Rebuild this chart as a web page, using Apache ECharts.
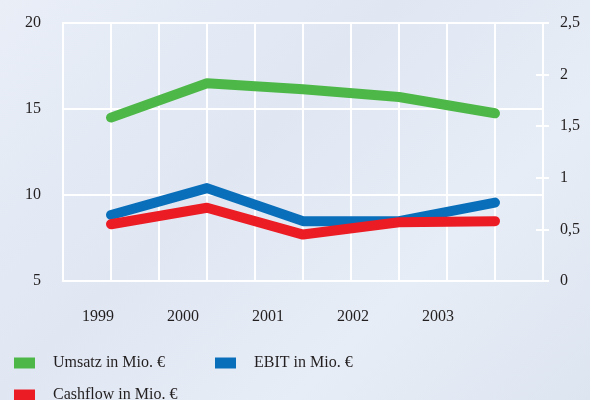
<!DOCTYPE html>
<html>
<head>
<meta charset="utf-8">
<script src="https://cdn.jsdelivr.net/npm/echarts@6/dist/echarts.min.js"></script>
<style>
html,body{margin:0;padding:0;}
#c{width:590px;height:400px;background:linear-gradient(135deg,#e9eef7 0%,#e0e7f3 40%,#e7edf6 70%,#dde5f1 100%);}
</style>
</head>
<body>
<div id="c"></div>
<script>
const years = [1999, 2000, 2001, 2002, 2003];
const yearLabels = ['1999', '2000', '2001', '2002', '2003'];
const umsatz = [14.5, 16.5, 16.15, 15.7, 14.75];
const ebit = [0.64, 0.90, 0.58, 0.58, 0.76];
const cashflow = [0.55, 0.71, 0.45, 0.57, 0.58];
const leftTicks = [5, 10, 15, 20];
const rightTicks = [0, 0.5, 1, 1.5, 2, 2.5];

const seriesNames = ['Umsatz in Mio. €', 'EBIT in Mio. €', 'Cashflow in Mio. €'];
const font = 'Liberation Serif';
const txt = '#231f20';
const pairs = v => years.map((y, i) => [y, v[i]]);

const chart = echarts.init(document.getElementById('c'));
chart.setOption({
  animation: false,
  textStyle: {fontFamily: font},
  grid: [
    {left: 63, right: 47, top: 23, bottom: 119, show: true, borderColor: '#ffffff', borderWidth: 2, backgroundColor: 'transparent'},
    {left: 55.5, width: 425, top: 23, bottom: 119}
  ],
  xAxis: [
    {type: 'value', gridIndex: 0, min: 1998.5, max: 2003.5, interval: 0.5,
     axisLine: {show: false}, axisTick: {show: false}, axisLabel: {show: false},
     splitLine: {show: true, lineStyle: {color: '#ffffff', width: 2}}},
    {type: 'category', gridIndex: 1, data: yearLabels, boundaryGap: true,
     axisLine: {show: false}, axisTick: {show: false}, splitLine: {show: false},
     axisLabel: {margin: 28, fontSize: 16, color: txt, fontFamily: font}}
  ],
  yAxis: [
    {type: 'value', gridIndex: 0, position: 'left', min: leftTicks[0], max: leftTicks[leftTicks.length-1], interval: 5,
     axisLine: {show: false}, axisTick: {show: false},
     axisLabel: {margin: 22, fontSize: 16, color: txt, fontFamily: font},
     splitLine: {show: true, lineStyle: {color: '#ffffff', width: 2}}},
    {type: 'value', gridIndex: 0, position: 'right', min: rightTicks[0], max: rightTicks[rightTicks.length-1], interval: 0.5,
     axisLine: {show: true, lineStyle: {color: '#ffffff', width: 2}},
     axisTick: {show: true, inside: true, length: 7, lineStyle: {color: '#ffffff', width: 2}},
     axisLabel: {margin: 17, fontSize: 16, color: txt, fontFamily: font, formatter: v => String(v).replace('.', ',')},
     splitLine: {show: false}},
    {type: 'value', gridIndex: 0, position: 'right', min: rightTicks[0], max: rightTicks[rightTicks.length-1], interval: 0.5,
     axisLine: {show: false},
     axisTick: {show: true, inside: false, length: 6, lineStyle: {color: '#ffffff', width: 2}},
     axisLabel: {show: false}, splitLine: {show: false}},
    {type: 'value', gridIndex: 1, show: false}
  ],
  legend: [
    {data: [seriesNames[0], seriesNames[1]], left: 14, top: 355, orient: 'horizontal', padding: 0,
     icon: 'rect', itemWidth: 21, itemHeight: 11, itemGap: 50,
     textStyle: {fontSize: 16, color: txt, fontFamily: font, padding: [0, 0, 0, 13]}},
    {data: [seriesNames[2]], left: 14, top: 387, orient: 'horizontal', padding: 0,
     icon: 'rect', itemWidth: 21, itemHeight: 11, itemGap: 50,
     textStyle: {fontSize: 16, color: txt, fontFamily: font, padding: [0, 0, 0, 13]}}
  ],
  series: [
    {name: seriesNames[0], type: 'line', xAxisIndex: 0, yAxisIndex: 0, data: pairs(umsatz),
     symbol: 'none', color: '#4db848', lineStyle: {width: 10, cap: 'round', join: 'round', color: '#4db848'}},
    {name: seriesNames[1], type: 'line', xAxisIndex: 0, yAxisIndex: 1, data: pairs(ebit),
     symbol: 'none', color: '#0a6fba', lineStyle: {width: 10, cap: 'round', join: 'round', color: '#0a6fba'}},
    {name: seriesNames[2], type: 'line', xAxisIndex: 0, yAxisIndex: 1, data: pairs(cashflow),
     symbol: 'none', color: '#ec1c24', lineStyle: {width: 10, cap: 'round', join: 'round', color: '#ec1c24'}}
  ]
});
</script>
</body>
</html>
